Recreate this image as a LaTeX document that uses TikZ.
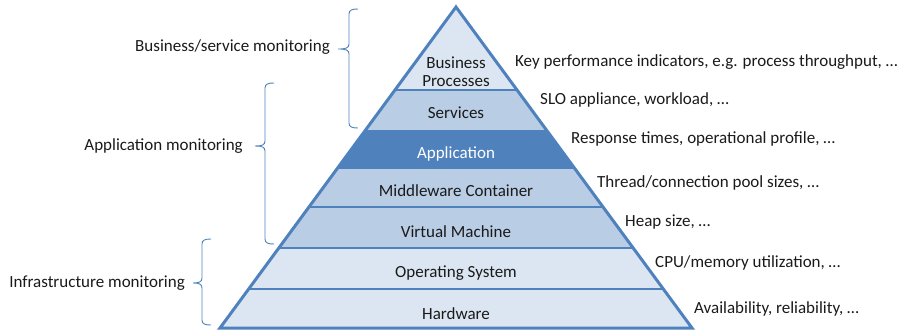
\documentclass[tikz,border=0pt]{standalone}
\usepackage{fontspec}
\setmainfont{Carlito}
\definecolor{edgeblue}{HTML}{4F81BD}
\definecolor{lightfill}{HTML}{DCE6F2}
\definecolor{midfill}{HTML}{B9CDE5}
\definecolor{darkfill}{HTML}{4F81BD}
\definecolor{txt}{HTML}{1A1A1A}
% curly bracket: end x, spine x, tip x, top y, tip y, bottom y
\newcommand\monbrace[6]{%
  \draw[bracket] (#1,#4) .. controls ({#2+3},#4) and (#2,{#4+1}) .. (#2,{#4+5})
    -- (#2,{#5-5}) .. controls (#2,{#5-1}) and ({#2-3},#5) .. (#3,#5)
    .. controls ({#2-3},#5) and (#2,{#5+1}) .. (#2,{#5+5})
    -- (#2,{#6-5}) .. controls (#2,{#6-1}) and ({#2+3},#6) .. (#1,#6);}
\begin{document}
\begin{tikzpicture}[x=1pt,y=-1pt,
  every node/.style={font=\fontsize{17}{19.5}\selectfont, text=txt, inner sep=0pt},
  layer/.style={align=center},
  note/.style={anchor=west},
  group/.style={anchor=east},
  outline/.style={draw=edgeblue, line width=3pt, line join=miter},
  divider/.style={draw=edgeblue, line width=1.1pt},
  bracket/.style={draw=edgeblue, line width=0.9pt}]
\useasboundingbox (0,0) rectangle (902,330);
\coordinate (apex) at (456,7);
\coordinate (bl) at (220,328);
\coordinate (br) at (692,328);
% layer bands
\begin{scope}
  \clip (apex) -- (bl) -- (br) -- cycle;
  \fill[lightfill] (0,0) rectangle (902,90);
  \fill[midfill] (0,90) rectangle (902,131);
  \fill[darkfill] (0,131) rectangle (902,168);
  \fill[midfill] (0,168) rectangle (902,248);
  \fill[lightfill] (0,248) rectangle (902,330);
  \foreach \yy in {90,131,168,207,248,289}
    \draw[divider] (0,\yy) -- (902,\yy);
\end{scope}
\draw[outline] (apex) -- (bl) -- (br) -- cycle;
% layer names
\node[layer] (bp) at (456,71.5) {Business\\[-1pt]Processes};
\node[layer] (svc) at (456,113) {Services};
\node[layer, text=white] (app) at (456,154) {Application};
\node[layer] (mw) at (456,191) {Middleware Container};
\node[layer] (vm) at (456,232) {Virtual Machine};
\node[layer] (os) at (456,273) {Operating System};
\node[layer] (hw) at (456,314) {Hardware};
% metrics per layer
\node[note] (kpi) at (515,62) {Key performance indicators, e.g. process throughput, …};
\node[note] (slo) at (540,100) {SLO appliance, workload, …};
\node[note] (resp) at (571,139) {Response times, operational profile, …};
\node[note] (pool) at (597,183) {Thread/connection pool sizes, …};
\node[note] (heap) at (625,222) {Heap size, …};
\node[note] (cpu) at (655,263) {CPU/memory utilization, …};
\node[note] (avail) at (694,309) {Availability, reliability, …};
% monitoring groups
\monbrace{358}{349}{338}{9}{49}{128}
\node[group] (bsm) at (330,47) {Business/service monitoring};
\monbrace{274}{265}{255}{83}{146}{244}
\node[group] (apm) at (243,146) {Application monitoring};
\monbrace{211}{202}{193}{239}{283}{325}
\node[group] (infra) at (185,283) {Infrastructure monitoring};
\end{tikzpicture}
\end{document}
